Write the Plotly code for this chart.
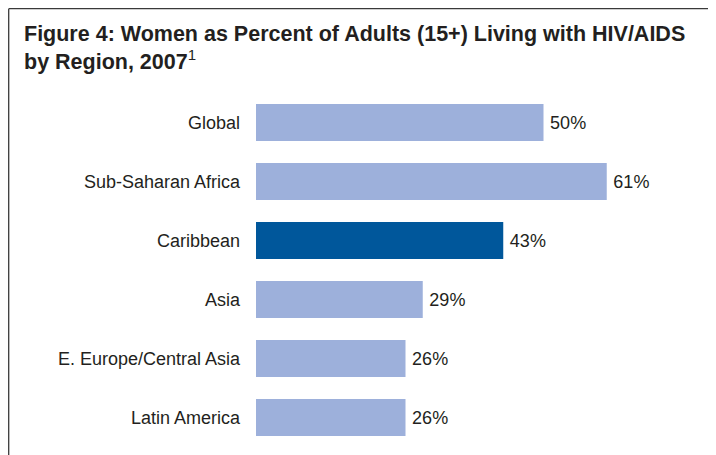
import plotly.graph_objects as go

regions = ["Global", "Sub-Saharan Africa", "Caribbean", "Asia",
           "E. Europe/Central Asia", "Latin America"]
women_pct = [50, 61, 43, 29, 26, 26]
highlight = "Caribbean"

LIGHT = "rgb(157,176,219)"
DARK = "rgb(0,87,155)"
TXT = "#231F20"

# the page adds an 8px body margin, so the figure is 8px smaller than the window
W, H = 708, 447
L, R, T, B = 248, 0, 85, 8
pw, ph = W - L - R, H - T - B

colors = [DARK if r == highlight else LIGHT for r in regions]

fig = go.Figure(go.Bar(
    x=women_pct, y=regions, orientation="h",
    marker=dict(color=colors, line=dict(width=0)),
    width=0.63,
    text=[f"\u2009{v}%" for v in women_pct],
    textposition="outside",
    textfont=dict(size=18, color=TXT, family="Liberation Sans, Arial, sans-serif"),
    cliponaxis=False,
    hoverinfo="skip",
))

def px2x(px):
    return (px - L) / pw

def py2y(py):
    return (H - B - py) / ph

fig.update_layout(
    width=W, height=H,
    margin=dict(l=L, r=R, t=T, b=B, pad=0),
    paper_bgcolor="white", plot_bgcolor="white",
    showlegend=False,
    font=dict(family="Liberation Sans, Arial, sans-serif", color=TXT, size=18),
    title=dict(
        text="<b>Figure 4: Women as Percent of Adults (15+) Living with HIV/AIDS<br>by Region, 2007</b><sup>1</sup>",
        xref="container", yref="container",
        x=16 / W, xanchor="left",
        y=1 - 33 / H, yanchor="top",
        font=dict(size=21.5, color=TXT, family="Liberation Sans, Arial, sans-serif"),
    ),
    xaxis=dict(range=[0, 80], visible=False, fixedrange=True),
    yaxis=dict(autorange="reversed", showgrid=False, zeroline=False,
               showline=False, ticks="", ticklabelstandoff=15,
               tickfont=dict(size=18, color=TXT)),
    shapes=[
        dict(type="line", xref="paper", yref="paper",
             x0=px2x(0.7), x1=px2x(W), y0=py2y(0.7), y1=py2y(0.7),
             line=dict(color="#3a3a3a", width=1.3)),
        dict(type="line", xref="paper", yref="paper",
             x0=px2x(0.7), x1=px2x(0.7), y0=py2y(0.7), y1=py2y(H),
             line=dict(color="#3a3a3a", width=1.3)),
    ],
)

fig.write_html("out.html")
